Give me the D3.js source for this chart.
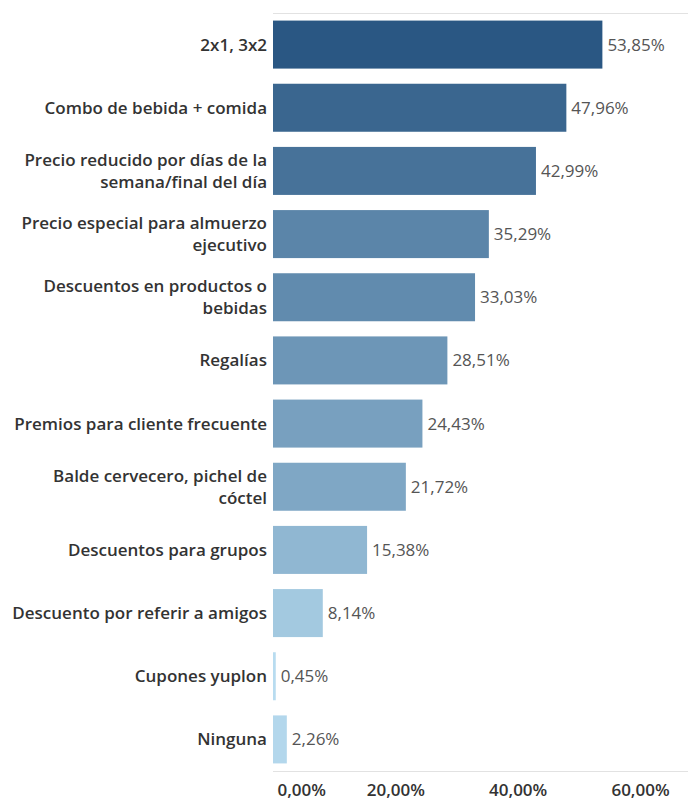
<!DOCTYPE html>
<html>
<head>
<meta charset="utf-8">
<script src="https://cdn.jsdelivr.net/npm/d3@7"></script>
<style>
  html, body { margin: 0; padding: 0; background: #fff; }
  svg { display: block; }
  text { font-family: "Open Sans", "Noto Sans", sans-serif; }
</style>
</head>
<body>
<svg id="chart" width="688" height="800"></svg>
<script>
// Promotion types (label lines) and share of respondents (%)
const categories = [
  ["2x1, 3x2"],
  ["Combo de bebida + comida"],
  ["Precio reducido por días de la", "semana/final del día"],
  ["Precio especial para almuerzo", "ejecutivo"],
  ["Descuentos en productos o", "bebidas"],
  ["Regalías"],
  ["Premios para cliente frecuente"],
  ["Balde cervecero, pichel de", "cóctel"],
  ["Descuentos para grupos"],
  ["Descuento por referir a amigos"],
  ["Cupones yuplon"],
  ["Ninguna"]
];
const values = [53.85, 47.96, 42.99, 35.29, 33.03, 28.51, 24.43, 21.72, 15.38, 8.14, 0.45, 2.26];
const tickValues = [0, 20, 40, 60];

const fmt = v => d3.format(".2f")(v).replace(".", ",") + "%";

const svg = d3.select("#chart");
const plot = { left: 273, right: 688, top: 13, bottom: 771 };

const x = d3.scaleLinear().domain([0, 60]).range([plot.left, plot.left + 367]);
const y = d3.scaleBand()
  .domain(d3.range(categories.length))
  .range([plot.top, plot.bottom])
  .paddingInner(0.24)
  .paddingOuter(0.12);

const color = d3.scaleSequential(d3.interpolateRgb("#b9ddf1", "#2a5783"))
  .domain([0, d3.max(values)]);

// frame lines
svg.append("line")
  .attr("x1", plot.left).attr("x2", plot.right)
  .attr("y1", plot.top + 0.5).attr("y2", plot.top + 0.5)
  .attr("stroke", "#e2e2e2").attr("stroke-width", 1);
svg.append("line")
  .attr("x1", plot.left).attr("x2", plot.right)
  .attr("y1", plot.bottom + 0.5).attr("y2", plot.bottom + 0.5)
  .attr("stroke", "#e2e2e2").attr("stroke-width", 1);

// bars
svg.append("g").selectAll("rect")
  .data(values)
  .join("rect")
  .attr("x", x(0))
  .attr("y", (d, i) => y(i))
  .attr("width", d => x(d) - x(0))
  .attr("height", y.bandwidth())
  .attr("fill", d => color(d));

// value labels
svg.append("g").selectAll("text")
  .data(values)
  .join("text")
  .attr("x", d => x(d) + 5)
  .attr("y", (d, i) => y(i) + y.bandwidth() / 2)
  .attr("dy", "0.35em")
  .attr("font-size", 17)
  .attr("fill", "#555")
  .text(d => fmt(d));

// category labels
const lineH = 22;
const lab = svg.append("g").selectAll("text")
  .data(categories)
  .join("text")
  .attr("text-anchor", "end")
  .attr("font-size", 17)
  .attr("font-weight", 600)
  .attr("fill", "#333")
  .attr("y", (d, i) => y(i) + y.bandwidth() / 2 - (d.length - 1) * lineH / 2);
lab.selectAll("tspan")
  .data(d => d)
  .join("tspan")
  .attr("x", 267)
  .attr("dy", (d, j) => j === 0 ? "0.35em" : lineH)
  .text(d => d);

// x axis tick labels
const axis = d3.axisBottom(x).tickValues(tickValues).tickFormat(fmt).tickSize(0).tickPadding(13);
const ax = svg.append("g").attr("transform", `translate(0,${plot.bottom})`).call(axis);
ax.select(".domain").remove();
ax.selectAll("text")
  .attr("font-size", 17)
  .attr("font-weight", 600)
  .attr("font-family", "\"Open Sans\", \"Noto Sans\", sans-serif")
  .attr("fill", "#333")
  .attr("text-anchor", d => d === 0 ? "start" : "middle")
  .attr("dx", d => d === 0 ? 4 : 0);
</script>
</body>
</html>
